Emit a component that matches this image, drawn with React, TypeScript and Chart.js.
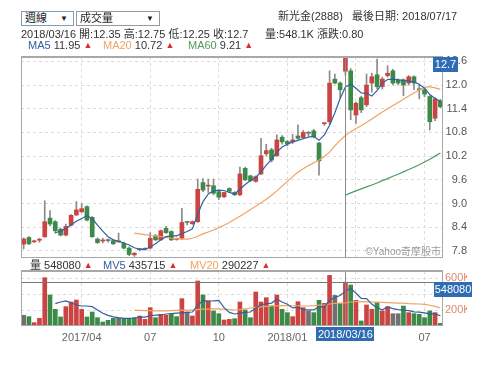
import React, { useEffect, useRef } from 'react';
import { Chart, registerables } from 'chart.js';

Chart.register(...registerables);

const F = '"Liberation Sans","Noto Sans CJK TC",sans-serif';
Chart.defaults.font.family = F;

// ---------- data ----------
const tickIdx = [11, 24, 37, 50, 63, 76];
const tickText = ['2017/04', '07', '10', '2018/01', '04', '07'];
const priceTicks = [7.8, 8.4, 9.0, 9.6, 10.2, 10.8, 11.4, 12.0, 12.6];
const volTicks = [200000, 400000, 600000];

const openP = [7.97, 8.14, 8.03, 8.07, 8.16, 8.63, 8.54, 8.35, 8.20, 8.45, 8.71, 8.79, 8.92, 8.65, 8.10, 8.05, 8.06, 8.06, 8.03, 7.99,
  7.87, 7.70, 7.84, 7.84, 7.87, 8.18, 8.08, 8.37, 8.29, 8.09, 8.12, 8.52, 8.49, 8.54, 9.53, 9.44, 9.45, 9.30, 9.17, 9.38,
  9.28, 9.22, 9.89, 9.70, 9.56, 9.75, 10.26, 10.36, 10.21, 10.68, 10.57, 10.56, 10.71, 10.67, 10.78, 10.84, 10.53, 11.02, 11.07, 12.15,
  12.05, 12.35, 12.36, 11.24, 11.68, 11.50, 12.05, 12.26, 11.96, 12.24, 12.36, 12.13, 12.13, 12.05, 12.21, 11.90, 11.88, 11.71, 11.16, 11.60];
const highP = [8.13, 8.16, 8.07, 8.12, 9.07, 8.82, 8.57, 8.38, 8.48, 8.72, 9.05, 9.00, 8.94, 8.67, 8.13, 8.12, 8.10, 8.08, 8.25, 8.02,
  7.90, 7.76, 7.86, 7.88, 8.26, 8.22, 8.33, 8.42, 8.31, 8.13, 8.88, 8.55, 8.56, 9.62, 9.63, 9.62, 9.62, 9.32, 9.29, 9.40,
  9.30, 9.92, 9.92, 9.72, 9.70, 10.65, 10.50, 10.40, 10.74, 10.72, 10.60, 10.75, 10.99, 10.85, 10.82, 10.88, 10.55, 11.05, 12.36, 12.28,
  12.08, 12.75, 12.42, 11.56, 11.72, 12.28, 12.30, 12.66, 12.20, 12.49, 12.40, 12.16, 12.16, 12.24, 12.23, 12.00, 11.92, 11.73, 11.68, 11.64];
const lowP = [7.85, 7.96, 8.01, 8.02, 8.14, 8.43, 8.25, 8.18, 8.18, 8.43, 8.69, 8.77, 8.56, 8.14, 7.99, 8.00, 8.02, 7.96, 8.01, 7.85,
  7.68, 7.66, 7.80, 7.82, 7.85, 8.06, 8.06, 8.24, 8.06, 8.07, 8.10, 8.46, 8.47, 8.52, 9.30, 9.28, 9.22, 9.10, 9.15, 9.29,
  9.20, 9.20, 9.58, 9.55, 9.54, 9.73, 10.20, 10.05, 10.19, 10.50, 10.46, 10.52, 10.62, 10.64, 10.70, 10.66, 9.72, 10.98, 11.00, 12.03,
  11.67, 12.25, 11.12, 11.03, 11.30, 11.45, 11.82, 11.90, 11.90, 12.20, 12.00, 12.00, 11.73, 12.00, 11.88, 11.65, 11.70, 10.86, 11.10, 11.42];
const closeP = [8.10, 7.98, 8.04, 8.08, 8.54, 8.48, 8.31, 8.20, 8.42, 8.70, 8.84, 8.87, 8.58, 8.16, 8.01, 8.06, 8.06, 7.98, 8.04, 7.87,
  7.71, 7.74, 7.83, 7.84, 8.12, 8.08, 8.31, 8.26, 8.08, 8.10, 8.52, 8.52, 8.54, 9.36, 9.34, 9.46, 9.26, 9.16, 9.28, 9.31,
  9.22, 9.75, 9.60, 9.58, 9.68, 10.21, 10.34, 10.10, 10.61, 10.56, 10.51, 10.61, 10.65, 10.80, 10.78, 10.69, 10.08, 11.03, 12.05, 12.05,
  11.88, 12.70, 11.37, 11.54, 11.37, 12.00, 12.21, 11.96, 12.15, 12.30, 12.05, 12.05, 12.00, 12.21, 12.05, 11.88, 11.77, 11.07, 11.65, 11.45];

const ma5 = [null, null, null, null, null, null, 8.26, 8.30, 8.36, 8.46, 8.55, 8.62, 8.69, 8.62, 8.45, 8.30, 8.16, 8.08, 8.04, 8.00,
  7.95, 7.88, 7.84, 7.84, 7.90, 7.98, 8.08, 8.16, 8.18, 8.18, 8.24, 8.29, 8.36, 8.73, 9.05, 9.24, 9.32, 9.34, 9.33, 9.28,
  9.24, 9.36, 9.48, 9.58, 9.66, 9.80, 9.97, 10.12, 10.30, 10.43, 10.50, 10.56, 10.60, 10.64, 10.68, 10.70, 10.60, 10.74, 10.98, 11.30,
  11.66, 11.95, 12.02, 11.92, 11.80, 11.79, 11.72, 11.86, 12.05, 12.14, 12.15, 12.13, 12.12, 12.10, 12.08, 12.02, 11.92, 11.76, 11.66, 11.58];
const ma20 = [null, null, null, null, null, null, null, null, null, null, null, null, null, null, null, null, null, null, null, null,
  null, 8.25, 8.23, 8.21, 8.19, 8.18, 8.16, 8.14, 8.12, 8.11, 8.10, 8.10, 8.12, 8.17, 8.23, 8.28, 8.33, 8.39, 8.45, 8.52,
  8.60, 8.68, 8.76, 8.85, 8.93, 9.02, 9.11, 9.21, 9.32, 9.44, 9.56, 9.68, 9.79, 9.88, 9.96, 10.03, 10.10, 10.19, 10.30, 10.46,
  10.60, 10.72, 10.82, 10.90, 10.97, 11.05, 11.14, 11.23, 11.32, 11.40, 11.48, 11.56, 11.64, 11.72, 11.80, 11.88, 11.94, 11.96, 11.93, 11.89];
const ma60 = [null, null, null, null, null, null, null, null, null, null, null, null, null, null, null, null, null, null, null, null,
  null, null, null, null, null, null, null, null, null, null, null, null, null, null, null, null, null, null, null, null,
  null, null, null, null, null, null, null, null, null, null, null, null, null, null, null, null, null, null, null, null,
  null, 9.21, 9.27, 9.32, 9.37, 9.42, 9.47, 9.52, 9.58, 9.63, 9.69, 9.74, 9.80, 9.86, 9.92, 9.98, 10.05, 10.12, 10.20, 10.28];

// weekly volume, thousands of shares
const volK = [134, 117, 42, 96, 604, 388, 208, 113, 242, 300, 325, 208, 113, 175, 104, 50, 71, 96, 96, 96,
  96, 104, 125, 83, 229, 104, 146, 134, 146, 117, 342, 175, 125, 563, 388, 313, 188, 154, 75, 83,
  92, 300, 200, 104, 425, 300, 354, 250, 388, 208, 167, 117, 304, 229, 188, 167, 321, 283, 633, 383,
  283, 548.08, 513, 321, 63, 263, 208, 292, 188, 242, 154, 154, 250, 167, 154, 146, 104, 188, 167, 33];
// price change vs previous week: 1 up, -1 down, 0 flat
const volDir = [0, -1, 1, 1, 1, -1, -1, -1, 1, 1, 1, 1, -1, -1, -1, -1, -1, -1, 0, -1,
  -1, -1, 1, 1, 1, -1, 1, 1, -1, -1, 1, 0, 1, 1, -1, 1, -1, -1, 1, 1,
  -1, 1, -1, -1, 1, 1, 1, -1, 1, -1, -1, 1, 1, 1, 0, -1, -1, 1, 1, 0,
  -1, 1, -1, 1, -1, 1, 1, -1, 1, 1, 0, 0, -1, 1, -1, -1, -1, -1, 1, -1];
const mv5K = [null, null, null, null, null, null, 279, 300, 313, 290, 263, 250, 250, 242, 200, 160, 133, 115, 104, 96,
  96, 100, 112, 112, 128, 135, 138, 150, 155, 160, 165, 170, 175, 262, 318, 313, 315, 321, 230, 170,
  150, 160, 170, 175, 224, 266, 277, 287, 335, 300, 273, 226, 237, 205, 201, 201, 242, 238, 318, 357,
  381, 435.715, 470, 410, 346, 342, 274, 229, 203, 239, 217, 206, 198, 193, 176, 174, 164, 152, 152, 128];
const mv20K = [null, null, null, null, null, null, null, null, null, null, null, null, null, null, null, null, null, null, null, null,
  null, 196, 195, 193, 192, 190, 188, 190, 192, 195, 198, 200, 198, 205, 210, 212, 215, 213, 210, 205,
  200, 205, 215, 225, 232, 240, 245, 250, 252, 255, 255, 253, 252, 250, 250, 255, 262, 265, 275, 283,
  287, 290.227, 300, 305, 305, 303, 300, 298, 295, 292, 290, 287, 285, 280, 278, 275, 270, 260, 245, 225];

const focusIdx = 61;
const focusDate = '2018/03/16';
const focusClose = 12.7;
const focusVol = 548080;

// ---------- styles ----------
const RED = '#cb4441';
const GREEN = '#3b8a47';
const GRAY = '#707070';
const WICK = '#8a8a8a';
const BLUE = '#33609f';
const ORANGE = '#f0a262';
const LGREEN = '#4f9a5d';
const BOX = '#2f6cb3';
const GRID = '#dcdcdc';
const FRAME = '#a8a8a8';

const idx = closeP.map((_, i) => i);

function xScale(showLabels: boolean) {
  return {
    type: 'linear' as const,
    min: -0.5,
    max: 79.5,
    offset: false,
    afterBuildTicks: (a: any) => { a.ticks = tickIdx.map((v) => ({ value: v })); },
    ticks: {
      display: showLabels,
      autoSkip: false,
      maxRotation: 0,
      padding: 5,
      color: '#666',
      font: { size: 11 },
      callback: (v: any) => tickText[tickIdx.indexOf(Number(v))] ?? '',
    },
    grid: { color: GRID, drawTicks: false, offset: false },
    border: { display: false, dash: [3, 3] },
    afterFit: (s: any) => {
      s.height = showLabels ? 20 : 0;
      s.paddingLeft = 0; s.paddingRight = 0;
    },
  };
}

function framePlugin(kind: 'price' | 'vol') {
  return {
    id: 'frame_' + kind,
    afterDraw(chart: any) {
      const { ctx, chartArea: a, scales } = chart;
      const xs = scales.x;
      const ys = scales.y;
      ctx.save();
      if (kind === 'price') {
        ctx.font = '10px ' + F;
        ctx.fillStyle = '#9a9a9a';
        ctx.textAlign = 'right';
        ctx.textBaseline = 'bottom';
        ctx.fillText('©Yahoo奇摩股市', a.right - 2, a.bottom - 1);
      }
      const cx = Math.round(xs.getPixelForValue(focusIdx)) + 0.5;
      ctx.strokeStyle = '#8c8c8c';
      ctx.lineWidth = 1;
      ctx.beginPath();
      ctx.moveTo(cx, a.top);
      ctx.lineTo(cx, a.bottom);
      ctx.stroke();
      if (kind === 'vol') {
        const hy = Math.round(ys.getPixelForValue(focusVol)) + 0.5;
        ctx.strokeStyle = '#777';
        ctx.beginPath();
        ctx.moveTo(a.left, hy);
        ctx.lineTo(a.right, hy);
        ctx.stroke();
      }
      // frame
      ctx.strokeStyle = FRAME;
      ctx.strokeRect(Math.round(a.left) + 0.5, Math.round(a.top) + 0.5, Math.round(a.width) - 1, Math.round(a.height) - 1);
      ctx.fillStyle = FRAME;
      ctx.fillRect(a.left, a.top - 1, a.width, 2);
      // value boxes
      ctx.font = '11px ' + F;
      ctx.textAlign = 'center';
      ctx.textBaseline = 'middle';
      if (kind === 'price') {
        const py = Math.max(a.top, Math.round(ys.getPixelForValue(focusClose)));
        ctx.fillStyle = BOX;
        ctx.fillRect(a.right - 10, py, 25, 15);
        ctx.fillStyle = '#fff';
        ctx.fillText(String(focusClose), a.right + 2.5, py + 8);
      } else {
        const vy = Math.round(ys.getPixelForValue(focusVol));
        ctx.fillStyle = BOX;
        ctx.fillRect(a.right - 9, vy, 38, 15);
        ctx.fillStyle = '#fff';
        ctx.fillText(String(focusVol), a.right + 10, vy + 8);
        const bx = xs.getPixelForValue(focusIdx);
        ctx.fillStyle = BOX;
        ctx.fillRect(Math.round(bx - 29), a.bottom + 1, 58, 14);
        ctx.fillStyle = '#fff';
        ctx.fillText(focusDate, bx, a.bottom + 8.5);
      }
      ctx.restore();
    },
  };
}

function yAxisFit(s: any) {
  s.width = 24;
  s.paddingTop = 0;
  s.paddingBottom = 0;
}

function PriceChart() {
  const ref = useRef<HTMLCanvasElement>(null);
  useEffect(() => {
    const line = (vals: (number | null)[], color: string) => ({
      type: 'line' as const,
      data: idx.map((i) => ({ x: i, y: vals[i] })),
      borderColor: color,
      borderWidth: 1.2,
      pointRadius: 0,
      tension: 0,
      spanGaps: false,
      order: 0,
    });
    const chart = new Chart(ref.current!, {
      type: 'bar',
      data: {
        datasets: [
          line(ma5, BLUE),
          line(ma20, ORANGE),
          line(ma60, LGREEN),
          {
            type: 'bar',
            data: idx.map((i) => ({ x: i, y: [openP[i], closeP[i]] })) as any,
            backgroundColor: idx.map((i) => (closeP[i] > openP[i] ? RED : closeP[i] < openP[i] ? GREEN : GRAY)),
            barThickness: 4,
            minBarLength: 1,
            grouped: false,
            order: 1,
          },
          {
            type: 'bar',
            data: idx.map((i) => ({ x: i, y: [lowP[i], highP[i]] })) as any,
            backgroundColor: WICK,
            barThickness: 1,
            grouped: false,
            order: 2,
          },
        ] as any,
      },
      options: {
        animation: false,
        responsive: false,
        events: [],
        layout: { padding: { left: 21, top: 57, right: 29, bottom: 4 } },
        plugins: { legend: { display: false }, tooltip: { enabled: false } },
        scales: {
          x: xScale(false) as any,
          y: {
            position: 'right',
            min: 7.62,
            max: 12.71,
            afterBuildTicks: (a: any) => { a.ticks = priceTicks.map((v) => ({ value: v })); },
            ticks: {
              padding: 2,
              crossAlign: 'far',
              color: '#555',
              font: { size: 11 },
              callback: (v: any) => Number(v).toFixed(1),
            },
            grid: { color: GRID, drawTicks: false },
            border: { display: false, dash: [3, 3] },
            afterFit: yAxisFit,
          } as any,
        },
      },
      plugins: [framePlugin('price')],
    });
    return () => chart.destroy();
  }, []);
  return <canvas ref={ref} width={496} height={262} style={{ position: 'absolute', left: 0, top: 0, display: 'block' }} />;
}

function VolumeChart() {
  const ref = useRef<HTMLCanvasElement>(null);
  useEffect(() => {
    const line = (vals: (number | null)[], color: string) => ({
      type: 'line' as const,
      data: idx.map((i) => ({ x: i, y: vals[i] == null ? null : (vals[i] as number) * 1000 })),
      borderColor: color,
      borderWidth: 1.2,
      pointRadius: 0,
      tension: 0,
      order: 0,
    });
    const chart = new Chart(ref.current!, {
      type: 'bar',
      data: {
        datasets: [
          line(mv5K, BLUE),
          line(mv20K, ORANGE),
          {
            type: 'bar',
            data: idx.map((i) => ({ x: i, y: volK[i] * 1000 })) as any,
            backgroundColor: idx.map((i) => (volDir[i] > 0 ? RED : volDir[i] < 0 ? GREEN : GRAY)),
            barThickness: 4,
            grouped: false,
            order: 1,
          },
        ] as any,
      },
      options: {
        animation: false,
        responsive: false,
        events: [],
        layout: { padding: { left: 21, top: 9, right: 29, bottom: 26 } },
        plugins: { legend: { display: false }, tooltip: { enabled: false } },
        scales: {
          x: xScale(true) as any,
          y: {
            position: 'right',
            min: 0,
            max: 688000,
            afterBuildTicks: (a: any) => { a.ticks = volTicks.map((v) => ({ value: v })); },
            ticks: {
              padding: 2,
              crossAlign: 'near',
              color: '#e0876c',
              font: { size: 11 },
              callback: (v: any) => Number(v) / 1000 + 'K',
            },
            grid: { color: GRID, drawTicks: false },
            border: { display: false, dash: [3, 3] },
            afterFit: yAxisFit,
          } as any,
        },
      },
      plugins: [framePlugin('vol')],
    });
    return () => chart.destroy();
  }, []);
  return <canvas ref={ref} width={496} height={110} style={{ position: 'absolute', left: 0, top: 262, display: 'block' }} />;
}

function Txt(props: { x: number; y: number; c?: string; s?: number; children: React.ReactNode }) {
  const { x, y, c = '#333', s = 11, children } = props;
  return (
    <div style={{ position: 'absolute', left: x, top: y - 7, height: 14, lineHeight: '14px', fontSize: s, color: c, whiteSpace: 'pre', fontFamily: F }}>
      {children}
    </div>
  );
}

function Legend(props: { x: number; y: number; name: string; color: string; value: string }) {
  return (
    <Txt x={props.x} y={props.y}>
      <span style={{ color: props.color }}>{props.name}</span>
      {' ' + props.value + ' '}
      <span style={{ color: '#d9302c', fontSize: 9, verticalAlign: '1px' }}>▲</span>
    </Txt>
  );
}

function SelectBox(props: { x: number; w: number; label: string; border: string }) {
  return (
    <div style={{ position: 'absolute', left: props.x, top: 11, width: props.w, height: 15, border: '1px solid ' + props.border, boxSizing: 'border-box', background: '#fff', fontFamily: F }}>
      <div style={{ position: 'absolute', left: 3, top: 0, lineHeight: '13px', fontSize: 11, color: '#222' }}>{props.label}</div>
      <div style={{ position: 'absolute', right: 5, top: 0, lineHeight: '13px', fontSize: 8, color: '#222' }}>▼</div>
    </div>
  );
}

export default function App() {
  return (
    <div style={{ position: 'fixed', left: 0, top: 0, width: 496, height: 372, background: '#fff', overflow: 'hidden' }}>
      <PriceChart />
      <VolumeChart />
      <SelectBox x={21} w={53} label="週線" border="#7f9dc0" />
      <SelectBox x={76} w={84} label="成交量" border="#999" />
      <Txt x={278} y={16}>{'新光金(2888)   最後日期: 2018/07/17'}</Txt>
      <Txt x={21} y={34}>2018/03/16 開:12.35 高:12.75 低:12.25 收:12.7</Txt>
      <Txt x={265} y={34}>量:548.1K 漲跌:0.80</Txt>
      <Legend x={28} y={45} name="MA5" color={BLUE} value="11.95" />
      <Legend x={103} y={45} name="MA20" color={ORANGE} value="10.72" />
      <Legend x={188} y={45} name="MA60" color={LGREEN} value="9.21" />
      <Txt x={30} y={265}>
        {'量 548080 '}
        <span style={{ color: '#d9302c', fontSize: 9, verticalAlign: '1px' }}>▲</span>
      </Txt>
      <Legend x={103} y={265} name="MV5" color={BLUE} value="435715" />
      <Legend x={190} y={265} name="MV20" color={ORANGE} value="290227" />
    </div>
  );
}
